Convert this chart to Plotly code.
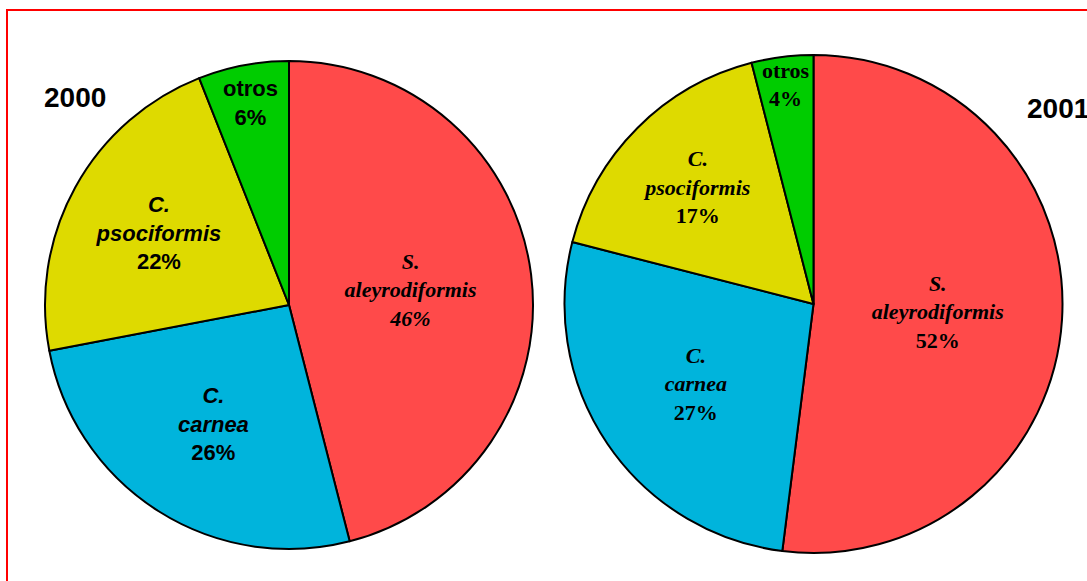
import plotly.graph_objects as go

# Data
species = ["S. aleyrodiformis", "C. carnea", "C. psociformis", "otros"]
values_2000 = [46, 26, 22, 6]
values_2001 = [52, 27, 17, 4]
years = ["2000", "2001"]

colors = ["#FF4A4A", "#00B4DC", "#DEDA00", "#00CC00"]

labels_2000 = [
    "<b><i>S.<br>aleyrodiformis<br>46%</i></b>",
    "<b><i>C.<br>carnea</i><br>26%</b>",
    "<b><i>C.<br>psociformis</i><br>22%</b>",
    "<b>otros<br>6%</b>",
]
fonts_2000 = ["Liberation Serif", "Liberation Sans", "Liberation Sans", "Liberation Sans"]

labels_2001 = [
    "<b><i>S.<br>aleyrodiformis</i><br>52%</b>",
    "<b><i>C.<br>carnea</i><br>27%</b>",
    "<b><i>C.<br>psociformis</i><br>17%</b>",
    "<b>otros<br>4%</b>",
]
fonts_2001 = ["Liberation Serif"] * 4

fig = go.Figure()

W, H = 1087, 581


def px(x):
    return x / W


def py(y):
    return 1 - y / H


def dom(x0, x1, y0, y1):
    return dict(x=[px(x0), px(x1)], y=[py(y1), py(y0)])


fig.add_trace(go.Pie(
    labels=species, values=values_2000, text=labels_2000,
    textinfo="text", textposition="inside", insidetextorientation="horizontal",
    sort=False, direction="clockwise", rotation=0,
    marker=dict(colors=colors, line=dict(color="black", width=2)),
    textfont=dict(family=fonts_2000, size=22, color="black"),
    domain=dom(45, 533, 61, 549), showlegend=False, hoverinfo="label+percent",
))

fig.add_trace(go.Pie(
    labels=species, values=values_2001, text=labels_2001,
    textinfo="text", textposition="inside", insidetextorientation="horizontal",
    sort=False, direction="clockwise", rotation=0,
    marker=dict(colors=colors, line=dict(color="black", width=2)),
    textfont=dict(family=fonts_2001, size=22, color="black"),
    domain=dom(564, 1063, 55, 553), showlegend=False, hoverinfo="label+percent",
))

fig.add_annotation(text="<b>%s</b>" % years[0], x=px(75), y=py(97), xref="paper", yref="paper",
                   xanchor="center", yanchor="middle",
                   showarrow=False, font=dict(family="Liberation Sans", size=28, color="black"))
fig.add_annotation(text="<b>%s</b>" % years[1], x=px(1025), y=py(108), xref="paper", yref="paper",
                   xanchor="left", yanchor="middle", showarrow=False,
                   font=dict(family="Liberation Sans", size=28, color="black"))

fig.add_shape(type="rect", xref="paper", yref="paper", x0=px(7), x1=1.05, y0=-0.05, y1=py(10),
              line=dict(color="red", width=2), fillcolor="rgba(0,0,0,0)")

fig.update_layout(width=W, height=H, margin=dict(l=0, r=0, t=0, b=0),
                  paper_bgcolor="white", plot_bgcolor="white",
                  uniformtext=dict(minsize=22, mode="show"))

fig.write_html("out.html", config={"displayModeBar": False},
               post_script="document.body.style.margin='0';document.body.style.overflow='hidden';")
